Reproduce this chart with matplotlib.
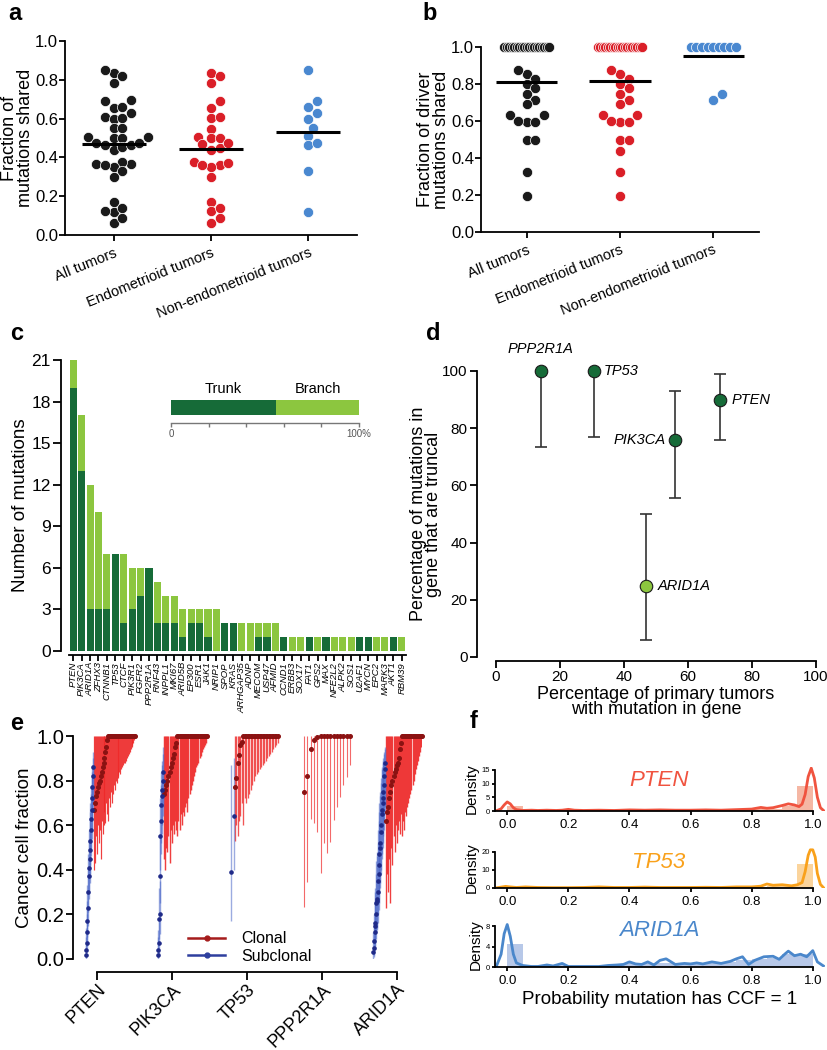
import numpy as np
import matplotlib
matplotlib.use("Agg")
import matplotlib.pyplot as plt
from matplotlib.lines import Line2D

plt.rcParams['font.family'] = ['Liberation Sans', 'DejaVu Sans']
plt.rcParams['axes.linewidth'] = 1.3
plt.rcParams['xtick.major.width'] = 1.3
plt.rcParams['ytick.major.width'] = 1.3

W, H = 828, 1050

# ── a / b: fraction of mutations shared ─────────────────────────────────────
groups = ["All tumors", "Endometrioid tumors", "Non-endometrioid tumors"]
grp_colors = ["#1a1a1a", "#da1f28", "#4a88d0"]

a_all = [0.837, 0.851, 0.820, 0.785, 0.691, 0.696, 0.653, 0.662, 0.631, 0.610,
         0.598, 0.601, 0.550, 0.550, 0.498, 0.507, 0.502, 0.507, 0.473, 0.464,
         0.438, 0.455, 0.464, 0.473, 0.364, 0.375, 0.352, 0.364, 0.330, 0.361,
         0.301, 0.172, 0.120, 0.137, 0.125, 0.064, 0.089]
a_endo = [0.837, 0.820, 0.785, 0.691, 0.653, 0.601, 0.607, 0.546, 0.498, 0.507,
          0.502, 0.467, 0.438, 0.450, 0.473, 0.361, 0.375, 0.369, 0.352, 0.361,
          0.301, 0.172, 0.124, 0.137, 0.064, 0.089]
a_nonendo = [0.851, 0.691, 0.631, 0.662, 0.598, 0.550, 0.510, 0.464, 0.476,
             0.330, 0.120]
a_means = [0.470, 0.445, 0.533]

b_all = [0.856, 0.874, 0.829, 0.799, 0.776, 0.745, 0.713, 0.691, 0.632, 0.632,
         0.596, 0.596, 0.601, 0.496, 0.496, 0.327, 0.197,
         1.0, 1.0, 1.0, 1.0, 1.0, 1.0, 1.0, 1.0, 1.0, 1.0,
         1.0, 1.0, 1.0, 1.0, 1.0, 1.0, 1.0, 1.0, 1.0]
b_endo = [0.856, 0.874, 0.829, 0.799, 0.776, 0.745, 0.713, 0.691, 0.632, 0.632,
          0.596, 0.596, 0.601, 0.496, 0.496, 0.438, 0.327, 0.197,
          1.0, 1.0, 1.0, 1.0, 1.0, 1.0, 1.0, 1.0, 1.0, 1.0,
          1.0, 1.0, 1.0, 1.0, 1.0, 1.0, 1.0, 1.0, 1.0]
b_nonendo = [0.714, 0.747, 1.0, 1.0, 1.0, 1.0, 1.0, 1.0, 1.0, 1.0, 1.0]
b_means = [0.813, 0.818, 0.951]

# ── c: trunk / branch counts per gene ───────────────────────────────────────
c_genes = ["PTEN", "PIK3CA", "ARID1A", "ZFHX3", "CTNNB1", "TP53", "CTCF", "PIK3R1",
           "FGFR2", "PPP2R1A", "RNF43", "INPPL1", "MKI67", "ARID5B", "EP300",
           "ESR1", "JAK1", "NRIP1", "SPOP", "KRAS", "ARHGAP35", "ADNP", "MECOM",
           "USP47", "AFMID", "CCND1", "ERBB3", "SOX17", "FAT1", "GPS2", "MAX",
           "NFE2L2", "ALPK2", "SOS1", "U2AF1", "MYCN", "EPC2", "MARK3", "AKT1",
           "RBM39"]
c_total = [21, 17, 12, 10, 7, 7, 7, 6, 6, 6, 5, 4, 4, 3, 3, 3, 3, 3, 2, 2, 2, 2,
           2, 2, 2, 1, 1, 1, 1, 1, 1, 1, 1, 1, 1, 1, 1, 1, 1, 1]
c_trunk = [19, 13, 3, 3, 3, 7, 2, 3, 4, 6, 2, 2, 2, 1, 2, 2, 1, 0, 2, 2, 0, 0,
           1, 1, 0, 1, 0, 0, 1, 0, 1, 0, 0, 0, 1, 1, 0, 0, 1, 0]
trunk_pct = 56

# ── d: truncal fraction vs prevalence ───────────────────────────────────────
d_genes = ["PPP2R1A", "TP53", "PIK3CA", "PTEN", "ARID1A"]
d_prev = [14, 30.5, 56, 70, 47]
d_trunc = [100, 100, 76, 90, 25]
d_lo = [73.5, 77, 55.5, 76, 6]
d_hi = [100, 100, 93, 99, 50]
d_light = [False, False, False, False, True]

# ── e: cancer cell fractions with CIs ───────────────────────────────────────
e_genes = ["PTEN", "PIK3CA", "TP53", "PPP2R1A", "ARID1A"]
# subclonal: ccf, lo, hi
e_sub = {
    "PTEN": ([0.02, 0.04, 0.07, 0.12, 0.17, 0.23, 0.30, 0.37, 0.41, 0.45, 0.49, 0.53,
              0.58, 0.63, 0.67, 0.72, 0.77, 0.82, 0.86],
             [0.00, 0.01, 0.03, 0.06, 0.10, 0.15, 0.21, 0.27, 0.30, 0.34, 0.38, 0.42,
              0.46, 0.50, 0.54, 0.58, 0.62, 0.66, 0.70],
             [0.10, 0.14, 0.20, 0.26, 0.33, 0.40, 0.47, 0.54, 0.58, 0.62, 0.66, 0.70,
              0.74, 0.78, 0.81, 0.84, 0.87, 0.90, 0.93]),
    "PIK3CA": ([0.02, 0.04, 0.07, 0.18, 0.20, 0.37, 0.55, 0.62, 0.69, 0.73, 0.76, 0.80, 0.84],
               [0.00, 0.01, 0.02, 0.09, 0.11, 0.25, 0.40, 0.47, 0.52, 0.56, 0.60, 0.64, 0.68],
               [0.10, 0.13, 0.17, 0.32, 0.35, 0.55, 0.72, 0.78, 0.84, 0.87, 0.89, 0.92, 0.95]),
    "TP53": ([0.39, 0.64], [0.17, 0.40], [0.87, 0.90]),
    "PPP2R1A": ([], [], []),
    "ARID1A": ([0.03, 0.05, 0.08, 0.12, 0.15, 0.16, 0.20, 0.25, 0.26, 0.27, 0.30, 0.35,
                0.38, 0.42, 0.47, 0.50, 0.52, 0.57, 0.60, 0.65, 0.67, 0.70, 0.72, 0.75,
                0.78, 0.82, 0.85, 0.88],
               [0.00, 0.01, 0.02, 0.04, 0.06, 0.07, 0.09, 0.12, 0.13, 0.14, 0.16, 0.20,
                0.22, 0.25, 0.30, 0.32, 0.34, 0.38, 0.40, 0.45, 0.47, 0.50, 0.52, 0.55,
                0.58, 0.62, 0.65, 0.68],
               [0.12, 0.15, 0.20, 0.26, 0.30, 0.32, 0.38, 0.44, 0.46, 0.48, 0.52, 0.58,
                0.62, 0.66, 0.70, 0.73, 0.75, 0.79, 0.81, 0.85, 0.86, 0.88, 0.89, 0.90,
                0.92, 0.93, 0.94, 0.95]),
}
# clonal with CCF < 1: ccf, lo (upper bound is 1)
e_clonal = {
    "PTEN": ([0.67, 0.70, 0.73, 0.75, 0.77, 0.79, 0.80, 0.82, 0.84, 0.86, 0.88, 0.90,
              0.93, 0.95, 0.98],
             [0.40, 0.43, 0.55, 0.47, 0.60, 0.52, 0.58, 0.45, 0.62, 0.56, 0.60, 0.66,
              0.61, 0.70, 0.65]),
    "PIK3CA": ([0.74, 0.76, 0.78, 0.80, 0.82, 0.84, 0.86, 0.88, 0.90, 0.92, 0.95, 0.97],
               [0.45, 0.40, 0.50, 0.48, 0.55, 0.43, 0.58, 0.52, 0.60, 0.56, 0.62, 0.58]),
    "TP53": ([0.77, 0.81, 0.88, 0.915, 0.96, 0.975],
             [0.53, 0.60, 0.55, 0.62, 0.64, 0.70]),
    "PPP2R1A": ([0.75, 0.82, 0.94, 0.98, 0.995],
                [0.235, 0.347, 0.63, 0.61, 0.57]),
    "ARID1A": ([0.62, 0.66, 0.68, 0.72, 0.75, 0.78, 0.80, 0.82, 0.84, 0.85, 0.87, 0.88,
                0.90, 0.94, 0.97],
               [0.23, 0.38, 0.30, 0.45, 0.25, 0.50, 0.42, 0.55, 0.48, 0.60, 0.52, 0.58,
                0.62, 0.56, 0.65]),
}
# clonal with CCF = 1: lower bounds only
e_full_lo = {
    "PTEN": [0.62, 0.72, 0.68, 0.75, 0.70, 0.74, 0.78, 0.76, 0.80, 0.79, 0.82, 0.81,
             0.84, 0.83, 0.85, 0.86, 0.87, 0.88, 0.88, 0.89, 0.90, 0.91, 0.92, 0.93,
             0.94, 0.95, 0.96, 0.97, 0.98, 0.99],
    "PIK3CA": [0.55, 0.62, 0.58, 0.65, 0.60, 0.66, 0.64, 0.68, 0.70, 0.66, 0.72, 0.74,
               0.76, 0.78, 0.80, 0.82, 0.84, 0.86, 0.87, 0.88, 0.90, 0.91, 0.93, 0.94,
               0.95, 0.96, 0.97, 0.99],
    "TP53": [0.60, 0.72, 0.70, 0.72, 0.74, 0.76, 0.78, 0.80, 0.82, 0.83, 0.84, 0.85,
             0.86, 0.87, 0.88, 0.89, 0.90, 0.91, 0.92, 0.93, 0.94, 0.95, 0.96, 0.97],
    "PPP2R1A": [0.384, 0.52, 0.474, 0.526, 0.623, 0.683, 0.728, 0.78, 0.818, 0.87],
    "ARID1A": [0.55, 0.62, 0.58, 0.66, 0.64, 0.68, 0.70, 0.72, 0.74, 0.76, 0.78, 0.80,
               0.83, 0.85, 0.87, 0.89, 0.91, 0.93, 0.95, 0.97],
}

# ── f: probability CCF = 1 densities ────────────────────────────────────────
pten_kde_x = [-0.035, -0.02, -0.01, 0.0, 0.01, 0.02, 0.03, 0.05, 0.08, 0.1, 0.13, 0.16,
              0.18, 0.2, 0.22, 0.25, 0.3, 0.35, 0.4, 0.45, 0.5, 0.55, 0.6, 0.65, 0.7,
              0.75, 0.8, 0.83, 0.85, 0.87, 0.9, 0.92, 0.94, 0.955, 0.965, 0.975, 0.985,
              0.995, 1.005, 1.015, 1.025, 1.035]
pten_kde_y = [0.1, 0.8, 2.2, 3.3, 2.6, 1.2, 0.5, 0.2, 0.3, 0.2, 0.3, 0.2, 0.3, 0.6, 0.3,
              0.2, 0.3, 0.2, 0.4, 0.3, 0.4, 0.3, 0.3, 0.4, 0.3, 0.5, 0.7, 1.3, 1.0, 1.2,
              2.0, 2.6, 2.2, 1.6, 2.5, 6.0, 12.5, 15.6, 12.0, 5.0, 1.2, 0.2]
tp53_kde_x = [-0.035, -0.02, -0.005, 0.01, 0.03, 0.06, 0.1, 0.15, 0.2, 0.25, 0.3, 0.35,
              0.4, 0.45, 0.5, 0.55, 0.6, 0.65, 0.7, 0.75, 0.8, 0.83, 0.85, 0.87, 0.9,
              0.93, 0.95, 0.965, 0.975, 0.985, 0.992, 1.0, 1.008, 1.015, 1.025, 1.035]
tp53_kde_y = [0.1, 0.5, 0.9, 0.6, 0.3, 0.6, 0.3, 0.2, 0.2, 0.3, 0.6, 0.3, 0.3, 0.5, 0.3,
              0.3, 0.3, 0.4, 0.3, 0.6, 0.6, 1.0, 2.2, 1.5, 1.8, 1.2, 1.8, 3.0, 9.0, 18.0,
              21.0, 21.0, 17.0, 8.0, 2.0, 0.2]
arid1a_kde_x = [-0.035, -0.02, -0.01, 0.0, 0.01, 0.02, 0.03, 0.05, 0.08, 0.1, 0.13, 0.15,
                0.18, 0.2, 0.25, 0.3, 0.33, 0.36, 0.38, 0.4, 0.42, 0.44, 0.46, 0.48, 0.5,
                0.52, 0.55, 0.58, 0.6, 0.62, 0.64, 0.67, 0.7, 0.73, 0.75, 0.77, 0.79,
                0.81, 0.84, 0.87, 0.89, 0.91, 0.92, 0.94, 0.96, 0.98, 1.0, 1.015, 1.035]
arid1a_kde_y = [0.2, 2.5, 6.5, 8.3, 6.0, 2.5, 0.8, 0.3, 0.1, 0.1, 0.4, 0.2, 0.7, 0.1,
                0.1, 0.1, 0.3, 0.4, 0.5, 1.0, 0.6, 0.5, 1.0, 0.4, 1.3, 1.6, 0.5, 0.7,
                0.6, 0.8, 0.6, 1.0, 0.7, 1.1, 1.6, 2.0, 0.5, 1.3, 2.0, 2.1, 1.5, 2.6,
                3.1, 2.2, 2.5, 2.0, 3.2, 1.0, 0.2]
pten_hist = [2.0, 0.2, 0.1, 0.2, 0.3, 0.2, 0.2, 0.3, 0.3, 0.3, 0.3, 0.3, 0.3, 0.3, 0.3,
             0.4, 0.6, 0.9, 1.8, 9.0]
tp53_hist = [0.5, 0.2, 0.1, 0.2, 0.2, 0.3, 0.3, 0.3, 0.3, 0.3, 0.3, 0.3, 0.3, 0.3, 0.3,
             0.4, 0.6, 1.2, 1.5, 13.0]
arid1a_hist = [4.5, 0.3, 0.2, 0.3, 0.1, 0.2, 0.3, 0.5, 0.7, 0.8, 0.8, 0.7, 0.8, 0.8,
               0.9, 1.3, 1.6, 1.8, 2.6, 2.5]
hist_edges = np.linspace(0, 1, 21)


# ═══════════════════════════════════════════════════════════════════════════
fig = plt.figure(figsize=(W / 100, H / 100), dpi=100)


def px_axes(l, t, r, b):
    return fig.add_axes([l / W, 1 - b / H, (r - l) / W, (b - t) / H])


def clean(ax):
    ax.spines["top"].set_visible(False)
    ax.spines["right"].set_visible(False)


def swarm(vals, px_x, px_y, d=10.0, row_half=0.24):
    vals = np.asarray(vals, float)
    xs = np.zeros(len(vals))
    placed = []
    lim = d * 0.86
    for i in np.argsort(vals, kind="stable"):
        y = vals[i] * px_y
        for k in range(60):
            off = ((k + 1) // 2) * (1 if k % 2 else -1) * lim / 2
            if all((off - px) ** 2 + (y - py) ** 2 >= lim ** 2 for px, py in placed):
                break
        placed.append((off, y))
        xs[i] = off / px_x
    # dense rows of identical values are squeezed into a fixed width
    for v in np.unique(vals):
        idx = np.where(vals == v)[0]
        if len(idx) >= 5:
            xs[idx] = np.linspace(-row_half, row_half, len(idx))
    return xs


def scatter_panel(ax, data, means, px_x, px_y):
    clean(ax)
    for i, (vals, col) in enumerate(zip(data, grp_colors)):
        xs = swarm(vals, px_x, px_y)
        ax.scatter(i + xs, vals, s=54, color=col, edgecolors="white",
                   linewidths=0.5, zorder=2, clip_on=False)
        ax.hlines(means[i], i - 0.33, i + 0.33, color="black", lw=2.2, zorder=3)
    ax.set_xticks(range(3))
    ax.set_xticklabels(groups, rotation=22, ha="right", rotation_mode="anchor",
                       fontsize=10.5)
    ax.set_ylim(0, 1.0)
    ax.set_yticks(np.arange(0, 1.01, 0.2))
    ax.set_yticklabels([f"{t:.1f}" for t in np.arange(0, 1.01, 0.2)], fontsize=12)
    ax.tick_params(axis="y", length=4, pad=1)
    ax.tick_params(axis="x", length=4, pad=4)


# ── a ──
ax = px_axes(65, 41, 357, 235)
ax.set_xlim(-0.5, 2.5)
scatter_panel(ax, [a_all, a_endo, a_nonendo], a_means, 97.3, 194)
ax.set_ylabel("Fraction of\nmutations shared", fontsize=13, linespacing=0.85,
              labelpad=1)

# ── b ──
ax = px_axes(481, 47, 759, 232)
ax.set_xlim(-0.49, 2.49)
scatter_panel(ax, [b_all, b_endo, b_nonendo], b_means, 94, 185)
ax.set_ylabel("Fraction of driver\nmutations shared", fontsize=13, linespacing=0.85,
              labelpad=1)

# ── c ──
DARK, LIGHT = "#166b38", "#8cc63f"
ax = px_axes(69, 360, 406, 651)
ax.spines["left"].set_position(("outward", 6))
ax.spines["bottom"].set_position(("outward", 3))
clean(ax)
x = np.arange(len(c_genes))
trunk = np.array(c_trunk)
branch = np.array(c_total) - trunk
ax.bar(x, trunk, width=0.84, color=DARK, lw=0)
ax.bar(x, branch, bottom=trunk, width=0.84, color=LIGHT, lw=0)
ax.set_xlim(-0.5, len(c_genes) - 0.5)
ax.set_ylim(0, 21)
ax.set_yticks(range(0, 22, 3))
ax.tick_params(axis="y", labelsize=12.5, length=6, pad=1)
ax.set_xticks(x)
ax.set_xticklabels(c_genes, rotation=90, fontsize=6.8, fontstyle="italic")
ax.tick_params(axis="x", length=4, pad=1)
ax.set_ylabel("Number of mutations", fontsize=13.5, labelpad=2)

axi = px_axes(171, 400, 359, 415)
for s in ["top", "right", "left"]:
    axi.spines[s].set_visible(False)
axi.spines["bottom"].set_position(("outward", 6))
axi.spines["bottom"].set_color("#777777")
axi.spines["bottom"].set_linewidth(1)
axi.barh(0, trunk_pct, height=1, color=DARK, lw=0)
axi.barh(0, 100 - trunk_pct, left=trunk_pct, height=1, color=LIGHT, lw=0)
axi.set_xlim(0, 100)
axi.set_ylim(-0.5, 0.5)
axi.set_yticks([])
axi.set_xticks(range(0, 101, 20))
axi.set_xticklabels(["0", "", "", "", "", "100%"], fontsize=7, color="#555555")
axi.tick_params(axis="x", length=3, width=1, color="#777777", pad=1)
axi.text(trunk_pct / 2, 0.75, "Trunk", ha="center", va="bottom", fontsize=10.5)
axi.text((100 + trunk_pct) / 2, 0.75, "Branch", ha="center", va="bottom", fontsize=10.5)

# ── d ──
ax = px_axes(496, 371, 816, 657)
ax.spines["left"].set_position(("outward", 14))
ax.spines["bottom"].set_position(("outward", 3))
clean(ax)
for g, xv, yv, lo, hi, light in zip(d_genes, d_prev, d_trunc, d_lo, d_hi, d_light):
    ax.errorbar(xv, yv, yerr=[[yv - lo], [hi - yv]], fmt="none", ecolor="#333333",
                elinewidth=1.2, capsize=4, capthick=1.2, zorder=2)
    ax.plot(xv, yv, "o", ms=9, mfc=LIGHT if light else DARK, mec="#1a1a1a",
            mew=0.8, zorder=3, clip_on=False)
lab_off = {"PPP2R1A": (0, 11, "center", "bottom"), "TP53": (7, 0, "left", "center"),
           "PIK3CA": (-7, 0, "right", "center"), "PTEN": (8, 0, "left", "center"),
           "ARID1A": (8, 0, "left", "center")}
for g, xv, yv in zip(d_genes, d_prev, d_trunc):
    dx, dy, ha, va = lab_off[g]
    ax.annotate(g, (xv, yv), xytext=(dx, dy), textcoords="offset points", ha=ha,
                va=va, fontsize=10.5, fontstyle="italic")
ax.set_xlim(0, 100)
ax.set_ylim(0, 100)
ax.set_xticks(range(0, 101, 20))
ax.set_yticks(range(0, 101, 20))
ax.tick_params(labelsize=11, length=5, pad=1.5)
ax.set_xlabel("Percentage of primary tumors\nwith mutation in gene", fontsize=13,
              linespacing=0.85, labelpad=1)
ax.set_ylabel("Percentage of mutations in\ngene that are truncal", fontsize=13,
              linespacing=0.85, labelpad=0)

# ── e ──
ax = px_axes(73, 736, 422, 959)
ax.spines["bottom"].set_position(("outward", 9))
ax.spines["bottom"].set_bounds(0, 4)
clean(ax)
e_span = {"PTEN": (-0.15, -0.05, 0.51), "PIK3CA": (-0.19, -0.12, 0.47),
          "TP53": (-0.21, -0.18, 0.41), "PPP2R1A": (-0.24, -0.24, 0.37),
          "ARID1A": (-0.32, -0.16, 0.33)}
CL_BAR, CL_PT = "#ee2a2a", "#8b1212"
SUB_BAR, SUB_PT = "#4a66c8", "#1f2a88"
for gi, g in enumerate(e_genes):
    start, split, end = e_span[g]
    s_ccf, s_lo, s_hi = e_sub[g]
    c_ccf, c_lo = e_clonal[g]
    f_lo = e_full_lo[g]
    n_cl = len(c_ccf) + len(f_lo)
    cl_x = gi + np.linspace(split + (0.012 if s_ccf else 0), end, n_cl)
    step_px = (end - split) * 75 / n_cl
    if g == "PPP2R1A":
        bar_lw, bar_a = 0.8, 0.7
    elif g == "TP53":
        bar_lw, bar_a = step_px * 0.72 * 0.9, 0.8
    else:
        bar_lw, bar_a = step_px * 0.72 * 1.3, 0.9
    cl_ccf_all = list(c_ccf) + [1.0 for _ in f_lo]
    cl_lo_all = list(c_lo) + list(f_lo)
    ax.vlines(cl_x, cl_lo_all, 1.0, color=CL_BAR, lw=bar_lw, alpha=bar_a, zorder=1)
    ax.plot(cl_x, cl_ccf_all, "o", ms=2.6, color=CL_PT, lw=0, zorder=3, clip_on=False)
    if s_ccf:
        sub_x = gi + np.linspace(start, split, len(s_ccf))
        ax.vlines(sub_x, s_lo, s_hi, color=SUB_BAR, lw=1.0, alpha=0.55, zorder=2)
        ax.plot(sub_x, s_ccf, "o", ms=2.3, color=SUB_PT, lw=0, zorder=3)
ax.set_xlim(-0.32, 4.33)
ax.set_ylim(0, 1.0)
ax.set_yticks(np.arange(0, 1.01, 0.2))
ax.set_yticklabels([f"{t:.1f}" for t in np.arange(0, 1.01, 0.2)], fontsize=14.5)
ax.set_xticks(range(len(e_genes)))
ax.set_xticklabels(e_genes, rotation=45, ha="right", rotation_mode="anchor",
                   fontsize=13)
ax.tick_params(axis="x", length=6, pad=1)
ax.tick_params(axis="y", length=5, pad=1.5)
ax.set_ylabel("Cancer cell fraction", fontsize=13.5, labelpad=2)
handles = [Line2D([], [], color="#a51c1c", marker="o", ms=3.5, lw=1.8),
           Line2D([], [], color="#2e3f9e", marker="o", ms=3.5, lw=1.8)]
ax.legend(handles, ["Clonal", "Subclonal"], loc="upper left",
          bbox_to_anchor=(0.33, 0.125), frameon=False, fontsize=11.5,
          handlelength=2.3, handletextpad=1.0, labelspacing=0.15,
          borderpad=0, borderaxespad=0)

# ── f ──
f_specs = [
    ("PTEN", pten_kde_x, pten_kde_y, pten_hist, "#f0533f", "#f5b7a4",
     (767, 811), 16, [0, 5, 10, 15], 0.70),
    ("TP53", tp53_kde_x, tp53_kde_y, tp53_hist, "#f9a11b", "#fbd49c",
     (848, 888), 22, [0, 10, 20], 0.65),
    ("ARID1A", arid1a_kde_x, arid1a_kde_y, arid1a_hist, "#4a87cb", "#b7c8e8",
     (923, 967), 8.6, [0, 4, 8], 0.84),
]
for k, (g, kx, ky, hv, lc, fc, (top, bot), ymax, yt, ty) in enumerate(f_specs):
    ax = px_axes(495, top, 825, bot)
    ax.spines["left"].set_bounds(0, yt[-1])
    ax.spines["bottom"].set_bounds(-0.04, 1.0)
    clean(ax)
    ax.bar(hist_edges[:-1], hv, width=0.05, align="edge", color=fc, lw=0, zorder=1)
    ax.plot(kx, ky, color=lc, lw=2.0, zorder=2, solid_joinstyle="round")
    ax.set_xlim(-0.04, 1.04)
    ax.set_ylim(0, ymax)
    ax.set_yticks(yt)
    ax.tick_params(axis="y", labelsize=5.5, length=2.5, pad=1)
    ax.set_xticks(np.arange(0, 1.01, 0.2))
    ax.set_xticklabels([f"{t:.1f}" for t in np.arange(0, 1.01, 0.2)], fontsize=9.5)
    ax.tick_params(axis="x", length=3, pad=3)
    ax.set_ylabel("Density", fontsize=11, labelpad=2)
    ax.text(0.497, ty, g, transform=ax.transAxes, ha="center", va="center",
            fontsize=16, fontstyle="italic", color=lc)
    if k == 2:
        ax.set_xlabel("Probability mutation has CCF = 1", fontsize=13.5, labelpad=3)

# ── panel letters ──
for lab, (xp, yp) in {"a": (8, 14), "b": (422, 14), "c": (10, 333), "d": (426, 333),
                      "e": (10, 723), "f": (470, 722)}.items():
    fig.text(xp / W, 1 - yp / H, lab, fontsize=17, fontweight="bold", ha="left",
             va="center")

fig.savefig("out.png", dpi=100)
